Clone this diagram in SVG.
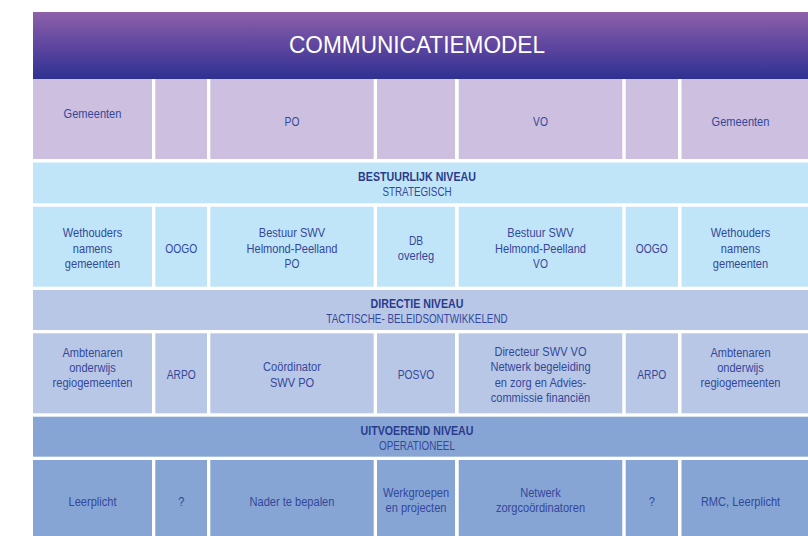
<svg xmlns="http://www.w3.org/2000/svg" width="808" height="536" viewBox="0 0 808 536">
<defs>
<linearGradient id="hdr" x1="0" y1="0" x2="0" y2="1">
<stop offset="0" stop-color="#8c61a9"/>
<stop offset="0.5" stop-color="#5f46a0"/>
<stop offset="1" stop-color="#2e3191"/>
</linearGradient>
<style>
text{font-family:"Liberation Sans",Arial,sans-serif;fill:#34479a;text-anchor:middle;font-size:13.5px}
.caps{font-size:12.5px}
.bold{font-weight:bold;font-size:13px;fill:#2a3b8c}
.sub{font-size:12px}
.title{fill:#ffffff;font-size:23px}
.r1{fill:#cdbfdf}
.r2{fill:#c1e5f8}
.r3{fill:#b8c7e6}
.r4{fill:#86a5d4}
</style>
</defs>
<rect width="808" height="536" fill="#ffffff"/>

<g id="header">
<rect x="33" y="12" width="775" height="67" fill="url(#hdr)"/>
<text class="title" x="417" y="53.3" textLength="256" lengthAdjust="spacingAndGlyphs">COMMUNICATIEMODEL</text>
</g>

<!-- Row 1 -->
<g id="r1c1"><rect class="r1" x="33" y="79" width="119" height="80"/><g transform="translate(92.5 0) scale(0.82 1)"><text x="0" y="118">Gemeenten</text></g></g>
<g id="r1c2"><rect class="r1" x="155.3" y="79" width="51.7" height="80"/></g>
<g id="r1c3"><rect class="r1" x="210.3" y="79" width="163.4" height="80"/><g transform="translate(292 0) scale(0.82 1)"><text class="caps" x="0" y="126">PO</text></g></g>
<g id="r1c4"><rect class="r1" x="377" y="79" width="78" height="80"/></g>
<g id="r1c5"><rect class="r1" x="458.7" y="79" width="163.6" height="80"/><g transform="translate(540.5 0) scale(0.82 1)"><text class="caps" x="0" y="126">VO</text></g></g>
<g id="r1c6"><rect class="r1" x="625.7" y="79" width="52.3" height="80"/></g>
<g id="r1c7"><rect class="r1" x="681.5" y="79" width="126.5" height="80"/><g transform="translate(740.5 0) scale(0.82 1)"><text x="0" y="126">Gemeenten</text></g></g>

<!-- Band 1 -->
<g id="band1"><rect class="r2" x="33" y="162.5" width="775" height="40.8"/>
<g transform="translate(417 0) scale(0.82 1)">
<text class="bold" x="0" y="180.7">BESTUURLIJK NIVEAU</text>
<text class="sub" x="0" y="195.7">STRATEGISCH</text></g></g>

<!-- Row 2 -->
<g id="r2c1"><rect class="r2" x="33" y="206.7" width="119" height="80"/>
<g transform="translate(92.5 0) scale(0.82 1)"><text x="0" y="237.5">Wethouders</text><text x="0" y="253">namens</text><text x="0" y="268.5">gemeenten</text></g></g>
<g id="r2c2"><rect class="r2" x="155.3" y="206.7" width="51.7" height="80"/><g transform="translate(181.2 0) scale(0.82 1)"><text class="caps" x="0" y="252.7">OOGO</text></g></g>
<g id="r2c3"><rect class="r2" x="210.3" y="206.7" width="163.4" height="80"/>
<g transform="translate(292 0) scale(0.82 1)"><text x="0" y="237.5">Bestuur SWV</text><text x="0" y="253">Helmond-Peelland</text><text class="caps" x="0" y="268.5">PO</text></g></g>
<g id="r2c4"><rect class="r2" x="377" y="206.7" width="78" height="80"/>
<g transform="translate(416 0) scale(0.82 1)"><text class="caps" x="0" y="245">DB</text><text x="0" y="260.5">overleg</text></g></g>
<g id="r2c5"><rect class="r2" x="458.7" y="206.7" width="163.6" height="80"/>
<g transform="translate(540.5 0) scale(0.82 1)"><text x="0" y="237.5">Bestuur SWV</text><text x="0" y="253">Helmond-Peelland</text><text class="caps" x="0" y="268.5">VO</text></g></g>
<g id="r2c6"><rect class="r2" x="625.7" y="206.7" width="52.3" height="80"/><g transform="translate(651.8 0) scale(0.82 1)"><text class="caps" x="0" y="252.7">OOGO</text></g></g>
<g id="r2c7"><rect class="r2" x="681.5" y="206.7" width="126.5" height="80"/>
<g transform="translate(740.5 0) scale(0.82 1)"><text x="0" y="237.5">Wethouders</text><text x="0" y="253">namens</text><text x="0" y="268.5">gemeenten</text></g></g>

<!-- Band 2 -->
<g id="band2"><rect class="r3" x="33" y="290" width="775" height="40"/>
<g transform="translate(417 0) scale(0.82 1)">
<text class="bold" x="0" y="308.2">DIRECTIE NIVEAU</text>
<text class="sub" x="0" y="323.2">TACTISCHE- BELEIDSONTWIKKELEND</text></g></g>

<!-- Row 3 -->
<g id="r3c1"><rect class="r3" x="33" y="333.3" width="119" height="80"/>
<g transform="translate(92.5 0) scale(0.82 1)"><text x="0" y="356.7">Ambtenaren</text><text x="0" y="371.7">onderwijs</text><text x="0" y="386.7">regiogemeenten</text></g></g>
<g id="r3c2"><rect class="r3" x="155.3" y="333.3" width="51.7" height="80"/><g transform="translate(181.2 0) scale(0.82 1)"><text class="caps" x="0" y="379">ARPO</text></g></g>
<g id="r3c3"><rect class="r3" x="210.3" y="333.3" width="163.4" height="80"/>
<g transform="translate(292 0) scale(0.82 1)"><text x="0" y="371.5">Coördinator</text><text x="0" y="386.7">SWV PO</text></g></g>
<g id="r3c4"><rect class="r3" x="377" y="333.3" width="78" height="80"/><g transform="translate(416 0) scale(0.82 1)"><text class="caps" x="0" y="379">POSVO</text></g></g>
<g id="r3c5"><rect class="r3" x="458.7" y="333.3" width="163.6" height="80"/>
<g transform="translate(540.5 0) scale(0.82 1)"><text x="0" y="355.7">Directeur SWV VO</text><text x="0" y="371.2">Netwerk begeleiding</text><text x="0" y="386.7">en zorg en Advies-</text><text x="0" y="402.2">commissie financiën</text></g></g>
<g id="r3c6"><rect class="r3" x="625.7" y="333.3" width="52.3" height="80"/><g transform="translate(651.8 0) scale(0.82 1)"><text class="caps" x="0" y="379">ARPO</text></g></g>
<g id="r3c7"><rect class="r3" x="681.5" y="333.3" width="126.5" height="80"/>
<g transform="translate(740.5 0) scale(0.82 1)"><text x="0" y="356.7">Ambtenaren</text><text x="0" y="371.7">onderwijs</text><text x="0" y="386.7">regiogemeenten</text></g></g>

<!-- Band 3 -->
<g id="band3"><rect class="r4" x="33" y="416.7" width="775" height="40"/>
<g transform="translate(417 0) scale(0.82 1)">
<text class="bold" x="0" y="434.6">UITVOEREND NIVEAU</text>
<text class="sub" x="0" y="449.6">OPERATIONEEL</text></g></g>

<!-- Row 4 -->
<g id="r4c1"><rect class="r4" x="33" y="460" width="119" height="76"/><g transform="translate(92.5 0) scale(0.82 1)"><text x="0" y="506">Leerplicht</text></g></g>
<g id="r4c2"><rect class="r4" x="155.3" y="460" width="51.7" height="76"/><g transform="translate(181.2 0) scale(0.82 1)"><text x="0" y="506">?</text></g></g>
<g id="r4c3"><rect class="r4" x="210.3" y="460" width="163.4" height="76"/><g transform="translate(292 0) scale(0.82 1)"><text x="0" y="506">Nader te bepalen</text></g></g>
<g id="r4c4"><rect class="r4" x="377" y="460" width="78" height="76"/>
<g transform="translate(416 0) scale(0.82 1)"><text x="0" y="496.7">Werkgroepen</text><text x="0" y="512">en projecten</text></g></g>
<g id="r4c5"><rect class="r4" x="458.7" y="460" width="163.6" height="76"/>
<g transform="translate(540.5 0) scale(0.82 1)"><text x="0" y="496.7">Netwerk</text><text x="0" y="512">zorgcoördinatoren</text></g></g>
<g id="r4c6"><rect class="r4" x="625.7" y="460" width="52.3" height="76"/><g transform="translate(651.8 0) scale(0.82 1)"><text x="0" y="506">?</text></g></g>
<g id="r4c7"><rect class="r4" x="681.5" y="460" width="126.5" height="76"/><g transform="translate(740.5 0) scale(0.82 1)"><text x="0" y="506">RMC, Leerplicht</text></g></g>

<g id="connectors"/>
</svg>
